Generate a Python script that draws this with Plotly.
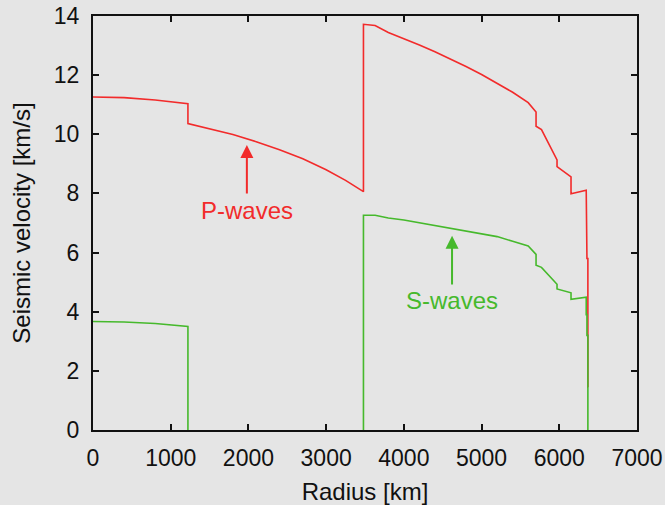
import plotly.graph_objects as go

# PREM-like seismic velocity profile
radius_p = [0, 400, 800, 1000, 1221.5, 1221.5, 1500, 1800, 2100, 2400, 2700, 3000, 3250, 3480,
            3480, 3630, 3800, 4000, 4200, 4400, 4600, 4800, 5000, 5200, 5400, 5600, 5701,
            5701, 5771, 5971, 5971, 6151, 6151, 6346.6, 6346.6, 6356, 6356, 6368, 6368, 6371]
vp = [11.26, 11.24, 11.16, 11.11, 11.03, 10.36, 10.19, 9.99, 9.75, 9.48, 9.17, 8.80, 8.44, 8.06,
      13.72, 13.68, 13.44, 13.24, 13.02, 12.79, 12.55, 12.29, 12.02, 11.73, 11.42, 11.07, 10.75,
      10.27, 10.16, 9.13, 8.91, 8.56, 7.99, 8.11, 6.80, 6.80, 5.80, 5.80, 1.45, 1.45]

# S-waves do not travel through the liquid outer core (gap = None)
radius_s = [0, 400, 800, 1000, 1221.5, 1221.5, None, 3480, 3480, 3630, 3800, 4000, 4500, 5000, 5200,
            5400, 5600, 5701, 5701, 5771, 5971, 5971, 6151, 6151, 6346.6, 6346.6, 6356, 6356,
            6368, 6368]
vs = [3.67, 3.65, 3.60, 3.56, 3.50, 0, None, 0, 7.26, 7.26, 7.17, 7.10, 6.87, 6.62, 6.54,
      6.38, 6.22, 5.94, 5.57, 5.50, 4.93, 4.77, 4.64, 4.42, 4.49, 3.90, 3.90, 3.20,
      3.20, 0]

x_ticks = [0, 1000, 2000, 3000, 4000, 5000, 6000, 7000]
y_ticks = [0, 2, 4, 6, 8, 10, 12, 14]

RED = "#f22b2b"
GREEN = "#46b92c"
BG = "#e5e5e5"
AX = "#111111"
FONT = "Liberation Sans, Arial, Helvetica, sans-serif"

fig = go.Figure()
fig.add_trace(go.Scatter(x=radius_p, y=vp, mode="lines", name="P-waves",
                         line=dict(color=RED, width=1.6)))
fig.add_trace(go.Scatter(x=radius_s, y=vs, mode="lines", name="S-waves", connectgaps=False,
                         line=dict(color=GREEN, width=1.6)))

# arrows
fig.add_annotation(x=1980, y=9.64, ax=1980, ay=7.95, xref="x", yref="y", axref="x", ayref="y",
                   text="", showarrow=True, arrowhead=2, arrowsize=1.3, arrowwidth=2,
                   arrowcolor=RED)
fig.add_annotation(x=1980, y=7.42, xref="x", yref="y", text="P-waves", showarrow=False,
                   font=dict(family=FONT, size=24, color=RED))
fig.add_annotation(x=4620, y=6.57, ax=4620, ay=4.87, xref="x", yref="y", axref="x", ayref="y",
                   text="", showarrow=True, arrowhead=2, arrowsize=1.3, arrowwidth=2,
                   arrowcolor=GREEN)
fig.add_annotation(x=4620, y=4.37, xref="x", yref="y", text="S-waves", showarrow=False,
                   font=dict(family=FONT, size=24, color=GREEN))

fig.update_layout(
    width=665, height=505, autosize=False,
    margin=dict(l=93, r=28, t=16, b=75),
    paper_bgcolor=BG, plot_bgcolor=BG,
    showlegend=False,
    font=dict(family=FONT, size=23, color=AX),
)
fig.update_xaxes(range=[0, 7000], tickvals=x_ticks, ticktext=[str(v) for v in x_ticks],
                 ticks="inside", ticklen=6, tickwidth=1.6, tickcolor=AX,
                 showline=True, linecolor=AX, linewidth=2, mirror="ticks",
                 showgrid=False, zeroline=False, ticklabelstandoff=6, automargin=False,
                 title=dict(text="Radius [km]", font=dict(size=24), standoff=14),
                 tickfont=dict(size=23))
fig.update_yaxes(range=[0, 14], tickvals=y_ticks, ticktext=[str(v) for v in y_ticks],
                 ticks="inside", ticklen=6, tickwidth=1.6, tickcolor=AX,
                 showline=True, linecolor=AX, linewidth=2, mirror="ticks",
                 showgrid=False, zeroline=False, ticklabelstandoff=7, automargin=False,
                 title=dict(text="Seismic velocity [km/s]", font=dict(size=24), standoff=16),
                 tickfont=dict(size=23))

fig.write_html("out.html", config={"responsive": False, "displayModeBar": False},
               post_script="document.body.style.margin='0px';"
                           "document.body.style.background='#e5e5e5';")
